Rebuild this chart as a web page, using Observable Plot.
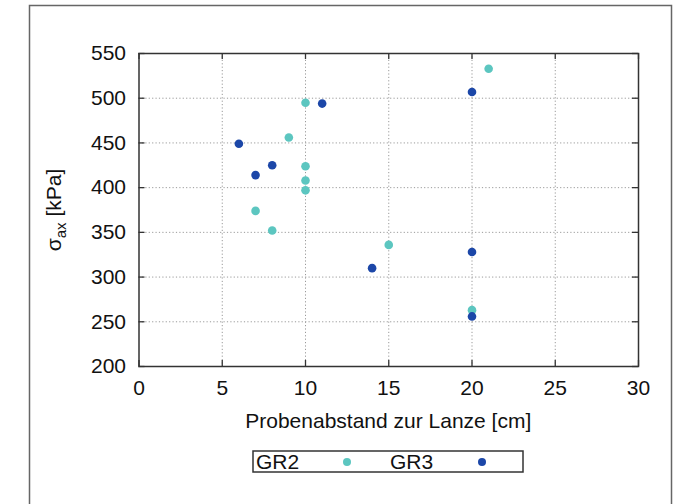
<!DOCTYPE html>
<html><head><meta charset="utf-8">
<script src="https://cdn.jsdelivr.net/npm/d3@7"></script>
<script src="https://cdn.jsdelivr.net/npm/@observablehq/plot@0.6"></script>
<style>
body{margin:0;background:#fff}
#chart{position:relative;width:687px;height:504px;overflow:hidden}
</style>
</head><body><div id="chart"></div>
<script>
// Data
const seriesNames = ["GR2", "GR3"];
const seriesColors = ["#5cc6c0", "#1c47a8"];
const gr2X = [10, 9, 10, 10, 10, 7, 8, 15, 20, 21];
const gr2Y = [495, 456, 424, 408, 397, 374, 352, 336, 263, 533];
const gr3X = [11, 6, 8, 7, 20, 14, 20, 20];
const gr3Y = [494, 449, 425, 414, 507, 310, 328, 256];
const xTicks = [0, 5, 10, 15, 20, 25, 30];
const yTicks = [200, 250, 300, 350, 400, 450, 500, 550];
const xLabel = "Probenabstand zur Lanze [cm]";

const rows = [
  ...gr2X.map((x, i) => ({x, y: gr2Y[i], s: seriesNames[0]})),
  ...gr3X.map((x, i) => ({x, y: gr3Y[i], s: seriesNames[1]}))
];

const W = 687, H = 504;
const mL = 138.5, mR = 49, mT = 53, mB = 138;
const xDom = [0, 30], yDom = [200, 550];
const FS = 21;
const tickPx = 6;
const xTickLen = tickPx * (xDom[1] - xDom[0]) / (W - mL - mR);
const yTickLen = tickPx * (yDom[1] - yDom[0]) / (H - mT - mB);
const gridStyle = {stroke: "#9a9a9a", strokeOpacity: 1, strokeDasharray: "1.2,2.2"};
const tickStyle = {stroke: "#333", strokeWidth: 1.3};

const plot = Plot.plot({
  width: W, height: H,
  marginLeft: mL, marginRight: mR, marginTop: mT, marginBottom: mB,
  x: {domain: xDom},
  y: {domain: yDom},
  color: {domain: seriesNames, range: seriesColors},
  style: {fontFamily: "'Liberation Sans', Arial, Helvetica, sans-serif", fontSize: FS + "px", color: "#111", background: "transparent"},
  marks: [
    Plot.gridX(xTicks.slice(1, -1), gridStyle),
    Plot.gridY(yTicks.slice(1, -1), gridStyle),
    Plot.ruleX(xTicks, {y1: yDom[0], y2: yDom[0] + yTickLen, ...tickStyle}),
    Plot.ruleX(xTicks, {y1: yDom[1], y2: yDom[1] - yTickLen, ...tickStyle}),
    Plot.ruleY(yTicks, {x1: xDom[0], x2: xDom[0] + xTickLen, ...tickStyle}),
    Plot.ruleY(yTicks, {x1: xDom[1], x2: xDom[1] - xTickLen, ...tickStyle}),
    Plot.axisX(xTicks, {tickSize: 0, tickPadding: 13.5, label: null, fontSize: FS}),
    Plot.axisY(yTicks, {tickSize: 0, tickPadding: 13, label: null, fontSize: FS}),
    Plot.frame({stroke: "#333", strokeWidth: 1.5}),
    Plot.dot(rows, {x: "x", y: "y", fill: "s", r: 4.3})
  ]
});
document.getElementById("chart").appendChild(plot);

const svg = d3.select(plot);
// outer border
svg.append("rect").attr("x", 29.5).attr("y", 5.5).attr("width", 642).attr("height", 530)
  .attr("fill", "none").attr("stroke", "#666").attr("stroke-width", 1.5);
// y label with subscript
const yl = svg.append("text").attr("transform", "translate(61,210) rotate(-90)")
  .attr("text-anchor", "middle").attr("font-size", FS).attr("fill", "#111");
yl.append("tspan").text("σ");
yl.append("tspan").attr("font-size", 15).attr("dy", 5).text("ax");
yl.append("tspan").attr("dy", -5).text(" [kPa]");
// x label
svg.append("text").attr("x", (mL + W - mR) / 2).attr("y", 428).attr("text-anchor", "middle")
  .attr("font-size", FS).attr("fill", "#111").text(xLabel);
// legend
svg.append("rect").attr("x", 253).attr("y", 451).attr("width", 270).attr("height", 21)
  .attr("fill", "#fff").attr("stroke", "#333").attr("stroke-width", 1.5);
const legX = [[256, 347], [390, 482]];
seriesNames.forEach((n, i) => {
  svg.append("text").attr("x", legX[i][0]).attr("y", 468.5).attr("text-anchor", "start")
    .attr("font-size", FS).attr("fill", "#111").text(n);
  svg.append("circle").attr("cx", legX[i][1]).attr("cy", 462).attr("r", 4).attr("fill", seriesColors[i]);
});
</script>
</body></html>
